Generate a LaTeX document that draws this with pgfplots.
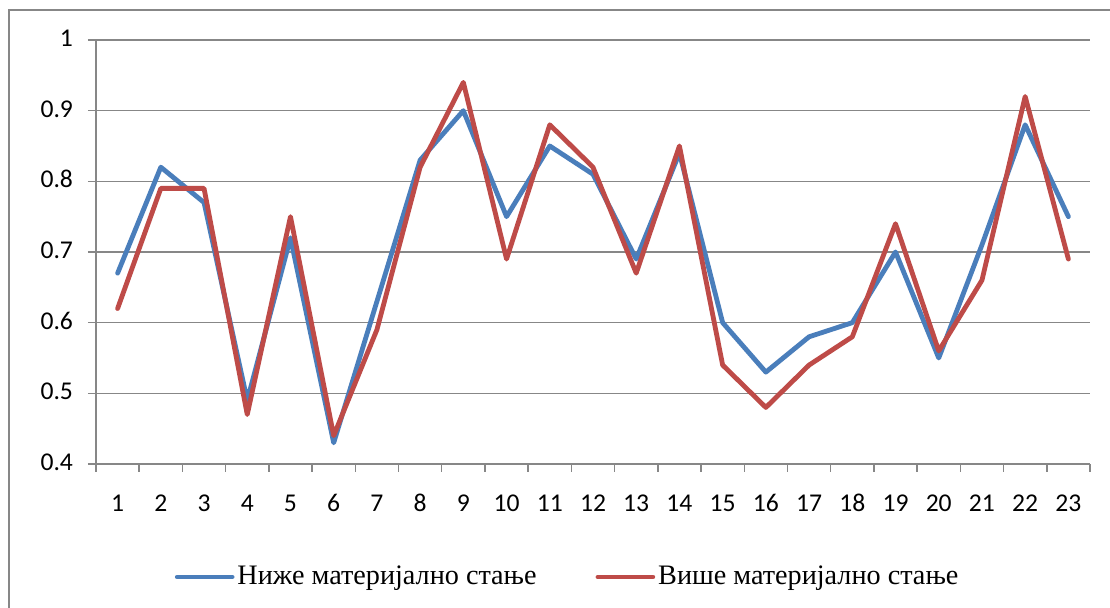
\documentclass[border=0pt]{standalone}
\usepackage{fontspec}
\setmainfont{Carlito}
\newfontfamily\legfont{Liberation Serif}
\usepackage{pgfplots}
\pgfplotsset{compat=1.18}
\definecolor{sblue}{HTML}{4A7EBB}
\definecolor{sred}{HTML}{BE4B48}
\definecolor{axgray}{HTML}{878787}
\begin{document}
\begin{tikzpicture}
\useasboundingbox (0,0) rectangle (555pt,304pt);
\fill[white] (0,0) rectangle (555pt,304pt);
\draw[axgray, line width=0.8pt] (4.5pt,-20pt) rectangle (620pt,299pt);
\begin{axis}[
  at={(48pt,72pt)}, anchor=south west,
  scale only axis, width=497pt, height=212pt,
  xmin=0.5, xmax=23.5, ymin=0.4, ymax=1,
  axis lines=left,
  axis line style={-, draw=axgray, line width=0.75pt},
  xtick={1,...,23},
  minor xtick={0.5,1.5,...,23.5},
  ytick={0.4,0.5,...,1.0},
  yticklabels={0.4,0.5,0.6,0.7,0.8,0.9,1},
  tick align=outside,
  major tick length=4pt, minor tick length=4pt,
  major x tick style={draw=none},
  tick style={axgray, line width=0.75pt},
  ymajorgrids,
  grid style={axgray, line width=0.6pt},
  /pgf/number format/assume math mode=true,
  tick label style={font=\fontsize{12.8}{14}\selectfont, text=black, text height=0.64em, text depth=0pt},
  yticklabel style={anchor=east, xshift=-4pt},
  xticklabel style={anchor=north, yshift=-10pt},
  legend columns=2,
  legend style={at={(axis description cs:0.475,-0.2665)}, anchor=center, draw=none, fill=none,
    font=\legfont\fontsize{14.1}{16}\selectfont,
    /tikz/every even column/.append style={column sep=28pt},
    nodes={inner sep=1.5pt}},
  legend image code/.code={\draw[#1, line width=2.3pt, line cap=round] (0pt,0pt) -- (27.5pt,0pt);},
  every axis plot/.append style={line width=2.4pt, line join=round, line cap=round},
]
\addplot[sblue] coordinates {
(1,0.67) (2,0.82) (3,0.77) (4,0.49) (5,0.72) (6,0.43) (7,0.63) (8,0.83) (9,0.90) (10,0.75) (11,0.85) (12,0.81) (13,0.69) (14,0.84) (15,0.60) (16,0.53) (17,0.58) (18,0.60) (19,0.70) (20,0.55) (21,0.71) (22,0.88) (23,0.75)};
\addlegendentry{Ниже материјално стање}
\addplot[sred] coordinates {
(1,0.62) (2,0.79) (3,0.79) (4,0.47) (5,0.75) (6,0.44) (7,0.59) (8,0.82) (9,0.94) (10,0.69) (11,0.88) (12,0.82) (13,0.67) (14,0.85) (15,0.54) (16,0.48) (17,0.54) (18,0.58) (19,0.74) (20,0.56) (21,0.66) (22,0.92) (23,0.69)};
\addlegendentry{Више материјално стање}
\end{axis}
\end{tikzpicture}
\end{document}
